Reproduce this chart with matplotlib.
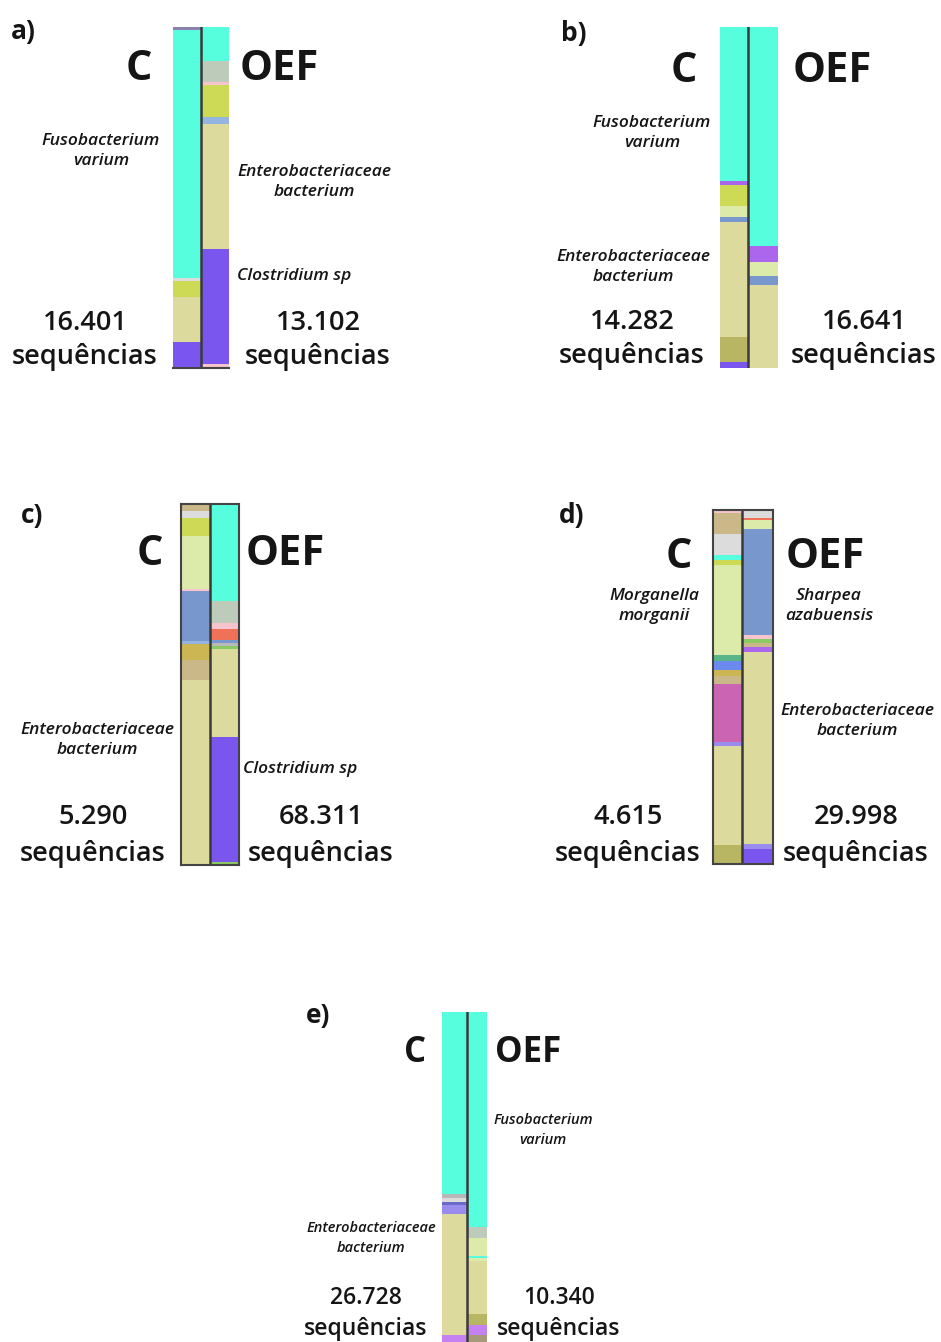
import matplotlib.pyplot as plt

plt.rcParams['font.family'] = ['Open Sans', 'DejaVu Sans']

W, H = 941, 1342

# cores por táxon
palette = {
    'Fusobacterium varium': '#57FEDE',
    'Enterobacteriaceae bacterium': '#DCDA9C',
    'Clostridium sp': '#7A56EE',
    'Sharpea azabuensis': '#7898CD',
    'Morganella morganii': '#DCEAAA',
    'YG': '#CDDA55', 'GG': '#BDCCBA', 'LG': '#DCDCDC', 'PK': '#F6C4CC',
    'LB': '#93B5E0', 'OL': '#B8B563', 'VI': '#AC66EE', 'TN': '#CBB888',
    'GD': '#CCB653', 'SR': '#EE7158', 'GR': '#8BCB63', 'TG': '#5BB58A',
    'BL': '#6B8AF0', 'MG': '#CC64B4', 'LV': '#9A8BEE', 'DB': '#6A6AC8',
    'PV': '#C580F2', 'BR': '#A69A7A', 'GP': '#8C82B0', 'GY': '#B8B8B8',
}
F, E, Cl = 'Fusobacterium varium', 'Enterobacteriaceae bacterium', 'Clostridium sp'
S, M = 'Sharpea azabuensis', 'Morganella morganii'

# abundâncias relativas (%), de cima para baixo
a_c_taxa = ['GP', F, 'LG', 'YG', E, Cl]
a_c_vals = [1.0, 72.5, 1.0, 4.7, 13.2, 7.6]
a_o_taxa = [F, 'GG', 'PK', 'YG', 'LB', E, Cl, 'PK']
a_o_vals = [10.1, 5.9, 1.0, 9.5, 1.8, 36.8, 33.8, 1.1]

b_c_taxa = [F, 'VI', 'YG', M, S, E, 'OL', Cl]
b_c_vals = [45.1, 1.2, 6.1, 3.2, 1.5, 33.7, 7.5, 1.7]
b_o_taxa = [F, 'VI', M, S, E]
b_o_vals = [64.3, 4.4, 4.2, 2.6, 24.4]

c_c_taxa = ['TN', 'LG', 'YG', M, 'PK', S, 'LB', 'GD', 'TN', E]
c_c_vals = [2.0, 1.8, 5.1, 14.7, 0.5, 13.8, 0.8, 4.6, 5.3, 51.3]
c_o_taxa = [F, 'GG', 'PK', 'SR', S, 'GY', 'GR', E, Cl, 'GR']
c_o_vals = [26.9, 5.9, 1.7, 3.0, 0.9, 0.9, 0.9, 24.4, 34.4, 0.9]

d_c_taxa = ['PK', 'TN', 'LG', F, 'YG', M, 'TG', 'BL', 'GD', 'TN', 'MG', 'LV', E, 'OL']
d_c_vals = [0.9, 5.9, 6.0, 1.4, 1.4, 25.3, 1.6, 2.6, 1.6, 2.4, 16.3, 1.1, 27.9, 5.4]
d_o_taxa = ['LG', 'SR', M, S, 'PK', 'GR', 'TN', 'VI', E, 'LV', Cl]
d_o_vals = [2.2, 0.7, 2.5, 29.8, 1.3, 0.9, 1.2, 1.4, 54.2, 1.4, 4.2]

e_c_taxa = [F, 'GY', 'LG', 'DB', 'LV', E, 'PV']
e_c_vals = [55.0, 1.3, 1.2, 0.8, 2.7, 36.8, 2.1]
e_o_taxa = [F, 'GG', M, F, M, E, 'OL', 'PV', 'BR']
e_o_vals = [65.1, 3.3, 5.4, 0.6, 1.0, 15.8, 3.5, 3.0, 2.1]

seq_c = ['16.401', '14.282', '5.290', '4.615', '26.728']
seq_o = ['13.102', '16.641', '68.311', '29.998', '10.340']

fig = plt.figure(figsize=(W / 100, H / 100), dpi=100)


def fx(x):
    return x / W


def fy(y):
    return 1 - y / H


def stack(ax, x0, width, taxa, vals):
    tot = sum(vals)
    bottom = 0
    for t, v in zip(taxa, vals):
        ax.bar(x0, v / tot * 100, width=width, bottom=bottom, align='edge',
               color=palette[t], edgecolor='none')
        bottom += v / tot * 100


def panel(box, split, c_data, o_data, frame):
    x1, y1, x2, y2 = box
    ax = fig.add_axes([fx(x1), fy(y2), fx(x2 - x1), (y2 - y1) / H])
    stack(ax, 0, split, *c_data)
    stack(ax, split, 1 - split, *o_data)
    ax.set_xlim(0, 1)
    ax.set_ylim(100, 0)
    ax.set_xticks([])
    ax.set_yticks([])
    ax.axvline(split, color='#3a3a3a', lw=1.8)
    for side, sp in ax.spines.items():
        sp.set_visible(side in frame)
        sp.set_color('#444444')
        sp.set_linewidth(1.5)
    return ax


panel((173, 27, 229, 368), 0.5, (a_c_taxa, a_c_vals), (a_o_taxa, a_o_vals), ['bottom'])
panel((720, 27, 778, 368), 0.48, (b_c_taxa, b_c_vals), (b_o_taxa, b_o_vals), [])
panel((181, 504, 239, 865), 0.5, (c_c_taxa, c_c_vals), (c_o_taxa, c_o_vals),
      ['top', 'bottom', 'left', 'right'])
panel((713, 510, 773, 864), 0.48, (d_c_taxa, d_c_vals), (d_o_taxa, d_o_vals),
      ['top', 'bottom', 'left', 'right'])
panel((442, 1012, 487, 1342), 0.56, (e_c_taxa, e_c_vals), (e_o_taxa, e_o_vals), [])


def txt(x, y, s, size, ha='center', weight='normal', style='normal'):
    fig.text(fx(x), fy(y), s, fontsize=size, ha=ha, va='center_baseline',
             fontweight=weight, fontstyle=style, color='#151515')


def species(x, y, lines, size=12.5, ha='center', gap=20):
    for i, s in enumerate(lines):
        txt(x, y + i * gap, s, size, ha=ha, weight='semibold', style='italic')


# rótulos dos painéis, títulos C / OEF
labels = [('a)', 11, 29, 139, 65, 240, 30), ('b)', 561, 31, 684, 67, 793, 30),
          ('c)', 21, 512, 150, 549, 246, 30), ('d)', 559, 513, 679, 552, 786, 30),
          ('e)', 306, 1013, 415, 1048, 495, 25)]
for lab, lx, ly, cx, cy, ox, fs in labels:
    txt(lx, ly, lab, 19, ha='left', weight='bold')
    txt(cx, cy, 'C', fs, weight='bold')
    txt(ox, cy, 'OEF', fs, ha='left', weight='bold')

# nomes das espécies
species(101, 139, ['Fusobacterium', 'varium'])
species(314, 170, ['Enterobacteriaceae', 'bacterium'])
species(237, 274, ['Clostridium sp'], ha='left')
species(652, 121, ['Fusobacterium', 'varium'])
species(633, 255, ['Enterobacteriaceae', 'bacterium'])
species(97, 728, ['Enterobacteriaceae', 'bacterium'])
species(243, 767, ['Clostridium sp'], ha='left')
species(654, 594, ['Morganella', 'morganii'])
species(829, 594, ['Sharpea', 'azabuensis'])
species(857, 709, ['Enterobacteriaceae', 'bacterium'])
species(543, 1119, ['Fusobacterium', 'varium'], size=10.5, gap=19)
species(371, 1227, ['Enterobacteriaceae', 'bacterium'], size=10.5, gap=19)

# número de sequências
seq_pos = [(85, 318, 320, 354, 19.5), (632, 864, 319, 353, 19.5),
           (93, 321, 814, 850, 19.5), (628, 856, 814, 850, 19.5),
           (366, 559, 1295, 1326, 16.5)]
for (xc, xo, y1, y2, fs), nc, no in zip(seq_pos, seq_c, seq_o):
    txt(xc, y1, nc, fs, weight='semibold')
    txt(xc, y2, 'sequências', fs, weight='semibold')
    txt(xo, y1, no, fs, weight='semibold')
    txt(xo, y2, 'sequências', fs, weight='semibold')

fig.savefig('out.png', dpi=100)
